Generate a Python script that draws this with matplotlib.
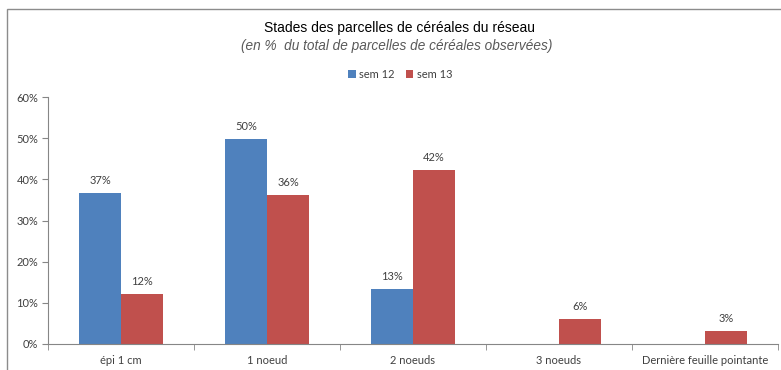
import numpy as np
import matplotlib
import matplotlib.pyplot as plt
from matplotlib.patches import Rectangle

matplotlib.use("Agg")

categories = ["épi 1 cm", "1 noeud", "2 noeuds", "3 noeuds", "Dernière feuille pointante"]
sem12 = [36.6, 49.9, 13.4, 0.0, 0.0]
sem13 = [12.1, 36.3, 42.3, 6.1, 3.1]
series_names = ["sem 12", "sem 13"]
colors = ["#4f81bd", "#c0504d"]

plt.rcParams['font.family'] = ['Lato', 'DejaVu Sans']
text_color = "#404040"
axis_color = "#868686"

fig = plt.figure(figsize=(7.81, 3.70), dpi=100)

# outer chart frame
fig.patches.append(Rectangle((7 / 781, -0.05), 1.0, 1 - 9 / 370 + 0.05,
                             transform=fig.transFigure, fill=False,
                             edgecolor="#8c8c8c", linewidth=1.0))

ax = fig.add_axes([48 / 781, 1 - 344 / 370, 730 / 781, (344 - 97) / 370])

x = np.arange(len(categories))
width = 0.2875
bars12 = ax.bar(x - width / 2, sem12, width, color=colors[0], label=series_names[0])
bars13 = ax.bar(x + width / 2, sem13, width, color=colors[1], label=series_names[1])

for bars, vals in [(bars12, sem12), (bars13, sem13)]:
    labels = [f"{round(v):.0f}%" if v > 0 else "" for v in vals]
    ax.bar_label(bars, labels=labels, padding=5, fontsize=8, color=text_color)

ax.set_xlim(-0.5, len(categories) - 0.5)
ax.set_ylim(0, 60)
ax.set_yticks(range(0, 61, 10))
ax.set_yticklabels([f"{v}%" for v in range(0, 61, 10)], fontsize=8, color=text_color)
ax.set_xticks(x)
ax.set_xticklabels(categories, fontsize=8, color=text_color)
ax.set_xticks(np.arange(-0.5, len(categories)), minor=True)
ax.tick_params(axis="x", which="major", length=0, pad=8)
ax.tick_params(axis="x", which="minor", length=4, color=axis_color, direction="out")
ax.tick_params(axis="y", length=4, color=axis_color, direction="out", pad=3)

for side in ["top", "right"]:
    ax.spines[side].set_visible(False)
for side in ["left", "bottom"]:
    ax.spines[side].set_color(axis_color)
    ax.spines[side].set_linewidth(0.8)

fig.text(399 / 781, 1 - 28 / 370, "Stades des parcelles de céréales du réseau",
         ha="center", va="center", fontsize=10, color="black",
         family=['Liberation Sans', 'DejaVu Sans'])
fig.text(397 / 781, 1 - 46 / 370, "(en %  du total de parcelles de céréales observées)",
         ha="center", va="center", fontsize=9.8, style="italic", color="#595959",
         family=['Liberation Sans', 'DejaVu Sans'])

fig.legend(loc="center", bbox_to_anchor=(400 / 781, 1 - 74 / 370), ncol=2, frameon=False,
           fontsize=8, handlelength=0.7, handleheight=0.7, handletextpad=0.3,
           columnspacing=1.0, labelcolor=text_color)

fig.savefig("out.png", dpi=100)
